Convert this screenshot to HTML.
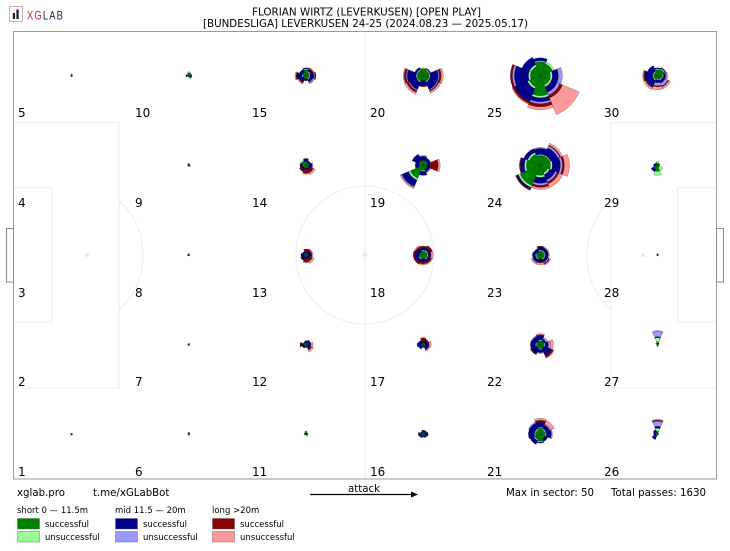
<!DOCTYPE html>
<html><head><meta charset="utf-8">
<style>
html,body{margin:0;padding:0;background:#fff;width:730px;height:551px;overflow:hidden;}
svg{display:block;}
text{font-family:"DejaVu Sans","Liberation Sans",sans-serif;fill:#000;}
</style></head>
<body>
<svg width="730" height="551" viewBox="0 0 730 551" xmlns="http://www.w3.org/2000/svg">
<rect width="730" height="551" fill="#fff"/>
<!-- logo -->
<rect x="9.5" y="6.5" width="13" height="15" fill="none" stroke="#e0a8b0" stroke-width="1"/>
<rect x="12.8" y="13" width="2.2" height="6" fill="#1d1d3a"/>
<rect x="16.4" y="9.5" width="2.3" height="9.5" fill="#1d1d3a"/>
<text x="27" y="19.5" font-size="12" textLength="37" lengthAdjust="spacingAndGlyphs" style="font-family:'Liberation Sans',sans-serif;letter-spacing:1.5px"><tspan style="fill:#b5253b">XG</tspan><tspan style="fill:#1d1d3a">LAB</tspan></text>
<!-- title -->
<text x="366.5" y="15.5" font-size="10.3" text-anchor="middle" textLength="229" lengthAdjust="spacingAndGlyphs">FLORIAN WIRTZ (LEVERKUSEN) [OPEN PLAY]</text>
<text x="365.5" y="27" font-size="10.3" text-anchor="middle" textLength="325" lengthAdjust="spacingAndGlyphs">[BUNDESLIGA] LEVERKUSEN 24-25 (2024.08.23 — 2025.05.17)</text>

<!-- pitch markings -->
<g fill="none" stroke="#ececec" stroke-width="1">
<line x1="365" y1="31" x2="365" y2="479"/>
<circle cx="365" cy="255" r="69"/>
<rect x="13.5" y="122.5" width="105.5" height="265.5"/>
<rect x="13.5" y="187.5" width="38.5" height="134.5"/>
<path d="M119,200.8 A56,66 0 0 1 119,309.2"/>
<rect x="611" y="122.5" width="105.5" height="265.5"/>
<rect x="677.5" y="187.5" width="39" height="134.5"/>
<path d="M611,200.8 A56,66 0 0 0 611,309.2"/>
</g>
<g fill="#e8e8e8">
<circle cx="365" cy="255" r="2"/>
<circle cx="87" cy="255" r="2"/>
<circle cx="643" cy="255" r="2"/>
</g>
<rect x="13.5" y="31.5" width="703" height="447.5" fill="none" stroke="#9a9a9a" stroke-width="1"/>
<rect x="6.5" y="228.5" width="7" height="53.5" fill="none" stroke="#8a8a8a" stroke-width="1"/>
<rect x="716.5" y="228.5" width="7" height="53.5" fill="none" stroke="#8a8a8a" stroke-width="1"/>

<g id="roses"></g>

<!-- sector labels -->
<g font-size="12">
<text x="18" y="117">5</text><text x="18" y="207">4</text><text x="18" y="297">3</text><text x="18" y="386">2</text><text x="18" y="476">1</text>
<text x="135" y="117">10</text><text x="135" y="207">9</text><text x="135" y="297">8</text><text x="135" y="386">7</text><text x="135" y="476">6</text>
<text x="252" y="117">15</text><text x="252" y="207">14</text><text x="252" y="297">13</text><text x="252" y="386">12</text><text x="252" y="476">11</text>
<text x="370" y="117">20</text><text x="370" y="207">19</text><text x="370" y="297">18</text><text x="370" y="386">17</text><text x="370" y="476">16</text>
<text x="487" y="117">25</text><text x="487" y="207">24</text><text x="487" y="297">23</text><text x="487" y="386">22</text><text x="487" y="476">21</text>
<text x="604" y="117">30</text><text x="604" y="207">29</text><text x="604" y="297">28</text><text x="604" y="386">27</text><text x="604" y="476">26</text>
</g>

<!-- footer -->
<g font-size="10.2">
<text x="17" y="496">xglab.pro</text>
<text x="93" y="496">t.me/xGLabBot</text>
<text x="364" y="492" text-anchor="middle">attack</text>
<text x="506" y="496" textLength="88" lengthAdjust="spacingAndGlyphs">Max in sector: 50</text>
<text x="611" y="496" textLength="95" lengthAdjust="spacingAndGlyphs">Total passes: 1630</text>
</g>
<line x1="310" y1="494.5" x2="413" y2="494.5" stroke="#000" stroke-width="1.2"/>
<polygon points="418,494.5 411,491.5 411,497.5" fill="#000"/>

<!-- legend -->
<g font-size="8.5">
<text x="17" y="513">short 0 — 11.5m</text>
<text x="115" y="513">mid 11.5 — 20m</text>
<text x="212" y="513">long &gt;20m</text>
<text x="45" y="527">successful</text>
<text x="45" y="540">unsuccessful</text>
<text x="143" y="527">successful</text>
<text x="143" y="540">unsuccessful</text>
<text x="240" y="527">successful</text>
<text x="240" y="540">unsuccessful</text>
</g>
<g stroke="#555" stroke-width="0.4">
<rect x="17.5" y="518.5" width="22" height="10.5" fill="#008000"/>
<rect x="17.5" y="531.5" width="22" height="10.5" fill="#98fb98"/>
<rect x="115.5" y="518.5" width="22" height="10.5" fill="#00008b"/>
<rect x="115.5" y="531.5" width="22" height="10.5" fill="#9999ff"/>
<rect x="212.5" y="518.5" width="22" height="10.5" fill="#8b0000"/>
<rect x="212.5" y="531.5" width="22" height="10.5" fill="#ff9999"/>
</g>
</svg>
<script>
(function(){
var C=['#008000','#98fb98','#00008b','#9999ff','#8b0000','#ff9999'];
var CX=[71.6,188.8,306,423.2,540.4,657.6];
var CY=[75.8,165.4,255,344.6,434.2];
function t(a){return [a,0,0,0,0,0];}
var D={
25:[[10,2,6,4,0,0],[13,2,0,0,0,0],[14,1,3,0,0,0],[10,2,8,0,0,0],[10,2,14,2,2,0],[12,2,14,0,2,1],[20,2,4,2,3,3],[10,2,6,3,3,18]],
20:[[6,1,8,1,2,2],[6,1,1,0,0,0],[7,1,0,0,0,0],[6,1,2,0,0,0],[6,1,9,1,2,1],[6,1,8,1,2,2],[5,0,5,0,1,0],[6,1,8,1,1,2]],
24:[[10,2,8,2,2,5],[10,1,8,2,1,2],[10,1,6,1,0,0],[12,2,4,0,0,0],[14,2,4,0,1,0],[22,2,2,0,1,0],[10,2,6,2,2,2],[8,2,6,2,2,4]],
30:[[5,1,2,1,0,1],[7,1,1,0,0,0],[6,1,1,0,0,0],[4,1,6,0,0,0],[4,1,8,0,1,1],[4,1,7,0,1,2],[3,1,3,3,1,3],[4,1,3,3,1,2]],
29:[[2,0,0,0,0,0],[2,1,0,0,0,0],[2,2,0,0,0,0],[2,0,1,0,0,0],[2,0,2,0,0,0],[4,0,3,0,0,0],[6,4,0,0,0,0],[2,4,0,0,0,0]],
15:[[3,1,4,1,1,0],[4,1,2,0,1,1],[6,1,1,0,0,0],[4,0,3,0,0,0],[3,1,5,0,1,1],[3,0,4,0,1,1],[3,0,2,0,0,0],[3,1,3,1,0,1]],
14:[[3,0,3,1,0,0],[3,0,2,0,0,0],[4,0,2,0,1,0],[5,1,0,0,0,0],[4,0,2,0,0,0],[3,0,2,0,2,0],[3,0,1,0,4,1],[3,0,2,0,3,2]],
10:[[2,0,1,0,0,0],[3,0,0,0,0,0],[3,1,0,0,0,0],[2,0,0,0,0,0],[2,0,1,0,0,0],[1,0,0,0,0,0],[1,0,0,0,0,0],[2,0,1,0,0,0]],
5:[t(1),t(1),t(2),t(1),t(1),t(1),t(1),t(1)],
9:[t(1.5),t(1),t(2),t(1.5),t(1),t(1),t(1),t(1.5)],
8:[t(1),t(1),t(1.5),t(1),t(1.5),t(1),t(1),t(1)],
7:[t(1),t(1.5),t(1),t(1),t(1),t(1),t(1),t(1)],
6:[t(1),t(1.5),t(2),t(1),t(1),t(1),t(1),t(1)],
1:[t(1),t(1),t(1),t(1),t(1),t(1),t(1),t(1)],
28:[t(1),t(1),t(1.5),t(1),t(1),t(1),t(1),t(1)],
11:[t(2),t(2),t(3),t(2),t(2),t(1),t(1),t(2)],
16:[[2,0,3,0,0,0],[2,0,2,0,0,0],[2,0,2,0,0,0],[2,0,1,0,0,0],[2,0,3,0,0,0],[2,0,2,0,0,0],[2,0,1,0,0,0],[2,0,2,0,0,0]],
13:[[2,0,3,0,1,1],[2,0,2,0,2,1],[2,0,1,0,3,0],[2,0,2,0,0,0],[2,0,3,0,0,0],[2,0,3,0,1,0],[2,0,2,0,3,1],[2,0,2,0,3,2]],
18:[[4,1,2,0,1,2],[4,1,3,0,2,0],[4,1,2,0,2,0],[4,0,3,0,2,1],[4,0,4,0,2,0],[4,1,3,0,2,0],[4,0,3,0,2,1],[4,1,3,0,1,1]],
23:[[4,1,3,0,0,1],[4,1,3,1,0,0],[4,1,3,0,1,0],[4,0,3,0,0,0],[4,1,3,0,0,0],[4,1,3,1,0,1],[4,0,3,0,1,2],[4,1,3,1,1,1]],
22:[[4,1,3,2,0,3],[4,0,2,2,0,0],[4,1,4,0,1,1],[4,0,5,1,0,0],[4,1,5,0,0,0],[4,0,6,0,1,0],[4,1,3,1,0,0],[4,0,8,0,2,1]],
27:[t(1),[2,0,0,0,0,0],[3,4,1,5,0,1],[2,0,0,0,0,0],t(1),t(1),t(2),t(1)],
26:[t(1),t(1),[3,3,2,5,1,1],[2,0,3,0,0,0],[2,0,2,0,0,0],[2,0,4,0,0,0],t(1),t(1)],
21:[[5,1,5,1,0,0],[5,1,4,1,0,4],[6,1,5,0,2,2],[5,1,6,1,0,0],[5,1,6,0,0,0],[6,1,4,0,0,0],[7,1,1,0,0,0],[5,0,3,0,0,0]],
17:[[2,0,4,0,0,2],[2,0,2,0,2,0],[2,0,2,0,3,0],[2,0,3,0,0,0],[2,0,4,0,0,0],[2,0,3,0,0,0],[2,0,1,0,0,0],[2,0,3,0,1,1]],
12:[[2,0,3,0,0,2],[2,0,2,0,1,0],[2,0,2,0,0,0],[2,0,1,0,0,0],[2,0,3,0,1,0],[2,0,2,0,0,0],[2,0,1,0,0,0],[2,0,3,0,1,2]],
19:[[4,0,3,0,8,2],[5,0,3,0,0,0],[5,0,4,1,0,0],[5,0,7,0,0,0],[4,0,4,0,0,0],[14,2,7,1,0,1],[5,1,4,0,0,0],[4,0,3,1,0,0]]
};
function f(v){return v.toFixed(2);}
var out='';
for(var k in D){
  var n=+k, col=Math.floor((n-1)/5), rb=(n-1)%5;
  var cx=CX[col], cy=CY[4-rb];
  var dirs=D[k];
  for(var d=0;d<8;d++){
    var a0=(d*45-22.5)*Math.PI/180, a1=(d*45+22.5)*Math.PI/180;
    var r=0;
    for(var j=0;j<6;j++){
      var th=dirs[d][j]; if(!th) continue;
      var r0=r, r1=r+th; r=r1;
      var x00=cx+r0*Math.cos(a0), y00=cy-r0*Math.sin(a0);
      var x10=cx+r1*Math.cos(a0), y10=cy-r1*Math.sin(a0);
      var x11=cx+r1*Math.cos(a1), y11=cy-r1*Math.sin(a1);
      var x01=cx+r0*Math.cos(a1), y01=cy-r0*Math.sin(a1);
      var p;
      if(r0===0){
        p='M'+f(cx)+' '+f(cy)+' L'+f(x10)+' '+f(y10)+' A'+r1+' '+r1+' 0 0 0 '+f(x11)+' '+f(y11)+'Z';
      } else {
        p='M'+f(x00)+' '+f(y00)+' L'+f(x10)+' '+f(y10)+' A'+r1+' '+r1+' 0 0 0 '+f(x11)+' '+f(y11)+' L'+f(x01)+' '+f(y01)+' A'+r0+' '+r0+' 0 0 1 '+f(x00)+' '+f(y00)+'Z';
      }
      out+='<path d="'+p+'" fill="'+C[j]+'" stroke="#000" stroke-opacity="0.45" stroke-width="0.45"/>';
    }
  }
}
document.getElementById('roses').innerHTML=out;
})();
</script>
</body></html>
